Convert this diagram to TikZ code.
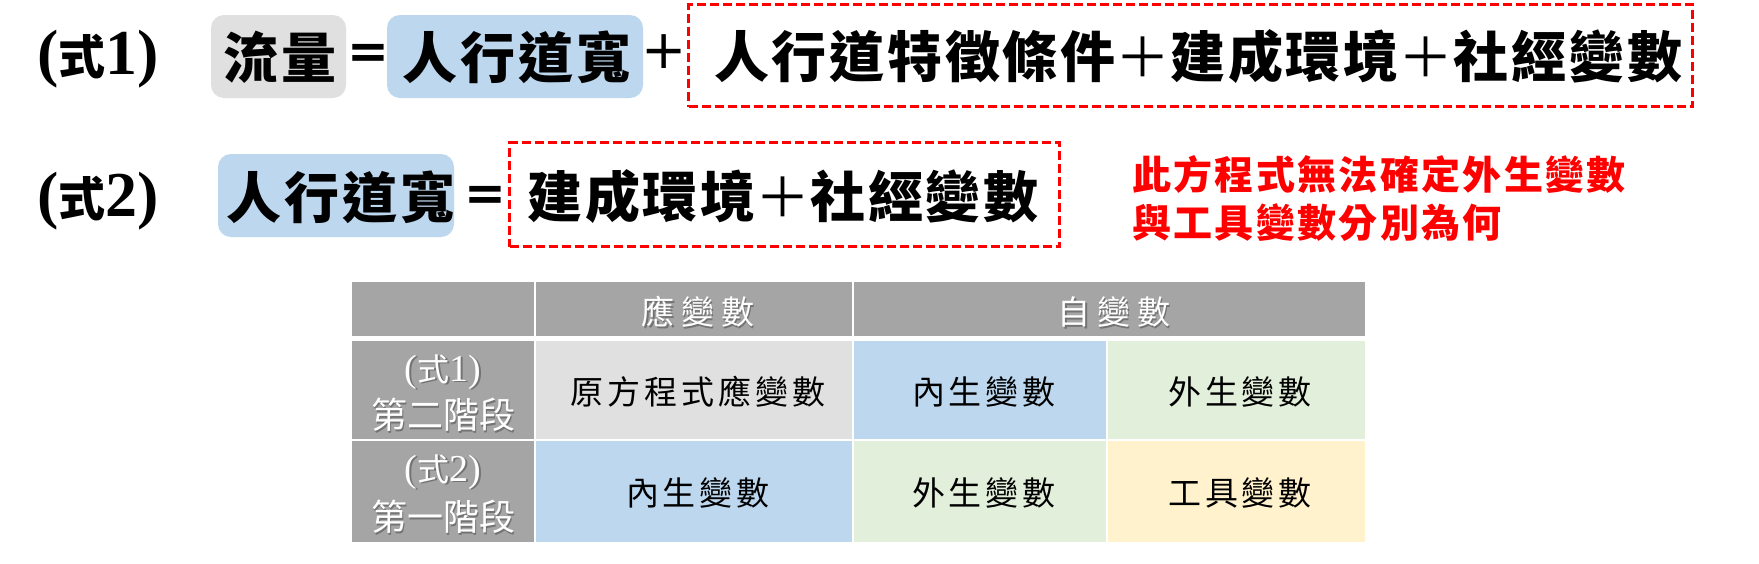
\documentclass[tikz,border=0pt]{standalone}
\usepackage{fontspec}
\setmainfont{Liberation Serif}
\newfontfamily\eqfont{DejaVu Sans}
\newfontfamily\cjk{Noto Sans CJK TC}
\newfontfamily\cjkbig[LetterSpace=5]{Noto Sans CJK TC}
\newfontfamily\cjkred[LetterSpace=6]{Noto Sans CJK TC}
\newfontfamily\cjkhead[LetterSpace=21]{Noto Sans CJK TC}
\newfontfamily\cjkcell[LetterSpace=12]{Noto Sans CJK TC}
\definecolor{boxgray}{HTML}{E0E0E0}
\definecolor{boxblue}{HTML}{BDD7EE}
\definecolor{hdgray}{HTML}{A5A5A5}
\definecolor{cgreen}{HTML}{E2EFDA}
\definecolor{cyellow}{HTML}{FFF2CC}
\definecolor{redtxt}{HTML}{FF0000}
\newcommand\eqlabel[1]{{\fontsize{64}{64}\selectfont\bfseries(}{\cjk\bfseries\fontsize{47}{47}\selectfont 式}{\fontsize{64}{64}\selectfont\bfseries#1)}}
\newcommand\tlabel[1]{{\fontsize{38}{38}\selectfont(}{\cjk\fontsize{32}{32}\selectfont 式}{\fontsize{38}{38}\selectfont#1)}}
\newcommand\thinplus{{\mdseries ＋}}
\tikzset{
  hl/.style={rounded corners=13pt, inner sep=0pt, draw=none},
  dbox/.style={draw=redtxt, line width=3pt, dash pattern=on 9pt off 4pt, inner sep=0pt},
  bigtxt/.style={inner sep=0pt, font=\cjkbig\bfseries\fontsize{55}{60}\selectfont},
  optxt/.style={inner sep=0pt, font=\eqfont\fontsize{54}{58}\selectfont},
  eqtxt/.style={inner sep=0pt, font=\eqfont\bfseries\fontsize{50}{54}\selectfont},
  redline/.style={inner sep=0pt, anchor=west, text=redtxt, font=\cjkred\bfseries\fontsize{39}{44}\selectfont},
  cellbox/.style={inner sep=0pt, draw=none},
  hdtxt/.style={inner sep=0pt, text=white, font=\cjkhead\fontsize{33}{36}\selectfont},
  hdshadow/.style={inner sep=0pt, text=black!55, font=\cjkhead\fontsize{33}{36}\selectfont},
  rowtxt/.style={inner sep=0pt, text=white, font=\cjk\fontsize{36}{40}\selectfont},
  rowshadow/.style={inner sep=0pt, text=black!55, font=\cjk\fontsize{36}{40}\selectfont},
  celltxt/.style={inner sep=0pt, font=\cjkcell\fontsize{33}{36}\selectfont},
}
\begin{document}
\begin{tikzpicture}[x=1pt,y=-1pt]
\useasboundingbox (0,0) rectangle (1759,563);
\fill[white] (0,0) rectangle (1759,563);

% ---- Equation 1 ----
\node[inner sep=0pt] (l1) at (98,59) {\eqlabel{1}};
\node[hl, fill=boxgray, minimum width=135pt, minimum height=83pt] (g1) at (278.5,56.5) {};
\node[bigtxt] (g1t) at (280,57) {流量};
\node[eqtxt] (eq1) at (368,56) {=};
\node[hl, fill=boxblue, minimum width=256pt, minimum height=83pt] (b1) at (515,56.5) {};
\node[bigtxt] (b1t) at (517,57) {人行道寬};
\node[optxt] (p1) at (664,52) {+};
\node[dbox, minimum width=1004pt, minimum height=102pt] (r1) at (1190.5,55.5) {};
\node[bigtxt] (r1t) at (1198,57) {人行道特徵條件\thinplus 建成環境\thinplus 社經變數};

% ---- Equation 2 ----
\node[inner sep=0pt] (l2) at (98,201) {\eqlabel{2}};
\node[hl, fill=boxblue, minimum width=236pt, minimum height=83pt] (b2) at (336,195.5) {};
\node[bigtxt] (b2t) at (341,197) {人行道寬};
\node[eqtxt] (eq2) at (485,198) {=};
\node[dbox, minimum width=550pt, minimum height=104pt] (r2) at (784.5,194.5) {};
\node[bigtxt] (r2t) at (783,197) {建成環境\thinplus 社經變數};

% ---- Red note ----
\node[redline] (n1) at (1132,174) {此方程式無法確定外生變數};
\node[redline] (n2) at (1132,223) {與工具變數分別為何};

% ---- Table ----
% header row (y 282-336)
\node[cellbox, fill=hdgray, minimum width=182pt, minimum height=54pt] (h0) at (443,309) {};
\node[cellbox, fill=hdgray, minimum width=316pt, minimum height=54pt] (h1) at (694,309) {};
\node[cellbox, fill=hdgray, minimum width=511pt, minimum height=54pt] (h2) at (1109.5,309) {};
\node[hdshadow] (h1s) at (699.5,313.5) {應變數};
\node[hdtxt] (h1t) at (698,312) {應變數};
\node[hdshadow] (h2s) at (1115.5,313.5) {自變數};
\node[hdtxt] (h2t) at (1114,312) {自變數};
% row 1 (y 341-439)
\node[cellbox, fill=hdgray, minimum width=182pt, minimum height=98pt] (a0) at (443,390) {};
\node[cellbox, fill=boxgray, minimum width=316pt, minimum height=98pt] (a1) at (694,390) {};
\node[cellbox, fill=boxblue, minimum width=252pt, minimum height=98pt] (a2) at (980,390) {};
\node[cellbox, fill=cgreen, minimum width=257pt, minimum height=98pt] (a3) at (1236.5,390) {};
% row 2 (y 441-542)
\node[cellbox, fill=hdgray, minimum width=182pt, minimum height=101pt] (c0) at (443,491.5) {};
\node[cellbox, fill=boxblue, minimum width=316pt, minimum height=101pt] (c1) at (694,491.5) {};
\node[cellbox, fill=cgreen, minimum width=252pt, minimum height=101pt] (c2) at (980,491.5) {};
\node[cellbox, fill=cyellow, minimum width=257pt, minimum height=101pt] (c3) at (1236.5,491.5) {};
% row header texts
\node[inner sep=0pt, text=black!55] (a0as) at (444.5,373.5) {\tlabel{1}};
\node[inner sep=0pt, text=white] (a0a) at (443,372) {\tlabel{1}};
\node[rowshadow] (a0bs) at (444.5,416.5) {第二階段};
\node[rowtxt] (a0b) at (443,415) {第二階段};
\node[inner sep=0pt, text=black!55] (c0as) at (444.5,473.5) {\tlabel{2}};
\node[inner sep=0pt, text=white] (c0a) at (443,472) {\tlabel{2}};
\node[rowshadow] (c0bs) at (444.5,518.5) {第一階段};
\node[rowtxt] (c0b) at (443,517) {第一階段};
% cell texts
\node[celltxt] (a1t) at (698,392) {原方程式應變數};
\node[celltxt] (a2t) at (984,392) {內生變數};
\node[celltxt] (a3t) at (1240,392) {外生變數};
\node[celltxt] (c1t) at (698,493) {內生變數};
\node[celltxt] (c2t) at (984,493) {外生變數};
\node[celltxt] (c3t) at (1240,493) {工具變數};
\end{tikzpicture}
\end{document}
